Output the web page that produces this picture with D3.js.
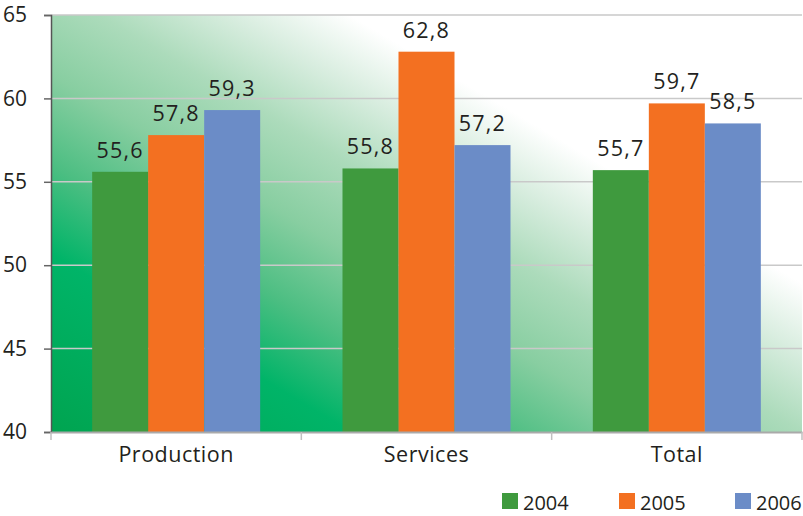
<!DOCTYPE html>
<html><head><meta charset="utf-8">
<script src="https://cdn.jsdelivr.net/npm/d3@7"></script>
<style>
body{margin:0;background:#fff;}
text{font-family:"Open Sans","Noto Sans",sans-serif;fill:#231f20;}
</style></head>
<body><svg id="c" width="803" height="516"></svg>
<script>
const categories = ["Production","Services","Total"];
const seriesNames = ["2004","2005","2006"];
const values2004 = [55.6, 55.8, 55.7];
const values2005 = [57.8, 62.8, 59.7];
const values2006 = [59.3, 57.2, 58.5];
const yTicks = [40,45,50,55,60,65];
const colors = ["#3f9a3e","#f37021","#6b8cc7"];

const series = [values2004, values2005, values2006];
const svg = d3.select("#c");
const L=51, R=802, T=15, B=432;
const x0 = d3.scaleBand().domain(categories).range([L,R]).padding(0);
const x1 = d3.scaleBand().domain(seriesNames).range([0,x0.bandwidth()]).paddingInner(0).paddingOuter(0.735);
const y = d3.scaleLinear().domain([40,65]).range([B,T]);
const fmt = v => d3.format(".1f")(v).replace(".",",");

// gradient background
const defs = svg.append("defs");
const g = defs.append("linearGradient").attr("id","bg").attr("gradientUnits","userSpaceOnUse")
  .attr("x1",L).attr("y1",B).attr("x2",L+0.51*511).attr("y2",B-0.86*511);
[[0,"#00a450"],[0.3,"#00b468"],[0.45,"#4cbe82"],[0.6,"#88cea1"],[0.75,"#acdbbb"],[0.88,"#d8eddf"],[1,"#ffffff"]]
 .forEach(([o,c])=>g.append("stop").attr("offset",o).attr("stop-color",c));
svg.append("rect").attr("x",L).attr("y",T).attr("width",R-L).attr("height",B-T).attr("fill","url(#bg)");

// gridlines
svg.append("g").selectAll("line").data(yTicks.filter(t=>t>40)).join("line")
  .attr("x1",L).attr("x2",R).attr("y1",d=>y(d)).attr("y2",d=>y(d))
  .attr("stroke","#c9c9c9").attr("stroke-width",1.5);

// bars
const groups = svg.append("g").selectAll("g").data(categories).join("g")
  .attr("transform",d=>`translate(${x0(d)},0)`);
groups.selectAll("rect").data((c,i)=>series.map((s,j)=>({s:seriesNames[j],v:s[i],j}))).join("rect")
  .attr("x",d=>x1(d.s)).attr("width",x1.bandwidth()).attr("y",d=>y(d.v)).attr("height",d=>B-y(d.v))
  .attr("fill",d=>colors[d.j]);
groups.selectAll("text").data((c,i)=>series.map((s,j)=>({s:seriesNames[j],v:s[i],j}))).join("text")
  .attr("x",d=>x1(d.s)+x1.bandwidth()/2).attr("y",d=>y(d.v)-14)
  .attr("text-anchor","middle").attr("font-size",21.5).attr("letter-spacing",1.2)
  .text(d=>fmt(d.v));

// y axis
const ya = svg.append("g").attr("transform",`translate(${L},0)`)
  .call(d3.axisLeft(y).tickValues(yTicks).tickSize(7).tickPadding(17).tickFormat(d3.format("d")));
ya.select(".domain").attr("stroke","#555").attr("stroke-width",1.5);
ya.selectAll(".tick line").attr("stroke","#666").attr("stroke-width",1.5);
ya.selectAll("text").attr("font-size",21).attr("fill","#231f20").attr("font-family","Open Sans");

// x axis
const xa = svg.append("g").attr("transform",`translate(0,${B})`)
  .call(d3.axisBottom(x0).tickSize(0).tickPadding(15));
xa.select(".domain").attr("stroke","#aaa").attr("stroke-width",2);
xa.selectAll("text").attr("font-size",21.5).attr("fill","#231f20").attr("font-family","Open Sans").attr("letter-spacing",0.5);
const bounds = categories.map(c=>x0(c)).concat([x0(categories[categories.length-1])+x0.bandwidth()]);
svg.append("g").selectAll("line").data(bounds).join("line")
  .attr("x1",d=>d).attr("x2",d=>d).attr("y1",B).attr("y2",B+8).attr("stroke","#c0c0c0").attr("stroke-width",1.5);

// legend
const lx = [502,619,735];
const lg = svg.append("g").selectAll("g").data(seriesNames).join("g")
  .attr("transform",(d,i)=>`translate(${lx[i]},493)`);
lg.append("rect").attr("width",16).attr("height",16).attr("fill",(d,i)=>colors[i]);
lg.append("text").attr("x",21).attr("y",17).attr("font-size",20).text(d=>d);
</script></body></html>
